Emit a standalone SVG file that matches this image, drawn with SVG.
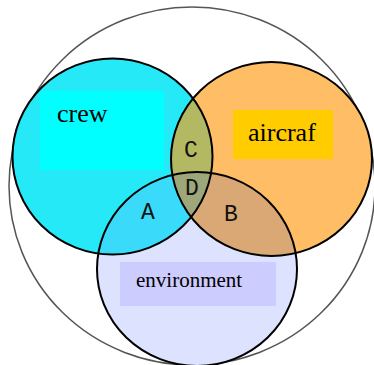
<svg xmlns="http://www.w3.org/2000/svg" width="374" height="365" viewBox="0 0 374 365">
  <style>
    .ring { fill: none; stroke: #000; stroke-width: 2; }
    .outer { fill: none; stroke: #555; stroke-width: 1.5; }
    .label { font-family: "Liberation Serif", "Times New Roman", serif; font-size: 26px; fill: #000; }
    .zone { font-family: "Liberation Mono", "Courier New", monospace; font-size: 23px; fill: #111; text-anchor: middle; }
  </style>
  <defs>
    <ellipse id="crewShape" cx="112.5" cy="156.5" rx="100" ry="98"/>
    <ellipse id="aircraftShape" cx="271.5" cy="159" rx="100.5" ry="97"/>
    <ellipse id="envShape" cx="197" cy="269" rx="100" ry="97"/>
    <clipPath id="clipCrew"><use href="#crewShape"/></clipPath>
    <clipPath id="clipAircraft"><use href="#aircraftShape"/></clipPath>
  </defs>

  <rect width="374" height="365" fill="#fff"/>

  <!-- enclosing system boundary -->
  <g id="system">
    <ellipse class="outer" cx="192" cy="186" rx="183" ry="179"/>
  </g>

  <!-- base set fills -->
  <g id="crew">
    <use href="#crewShape" fill="#26E9F8"/>
    <rect x="40" y="91" width="124" height="79" fill="#00FFFF"/>
    <text class="label" x="57" y="122">crew</text>
  </g>
  <g id="aircraft">
    <use href="#aircraftShape" fill="#FFBE66"/>
    <rect x="233" y="110" width="100" height="49" fill="#FFCC00"/>
    <text class="label" x="248" y="141">aircraf</text>
  </g>
  <g id="environment">
    <use href="#envShape" fill="#DDE3FF"/>
    <rect x="120" y="262" width="156" height="44" fill="#CCCCFF"/>
    <text class="label" x="136" y="287" style="font-size:21px">environment</text>
  </g>

  <!-- overlap regions -->
  <g id="zoneA">
    <g clip-path="url(#clipCrew)"><use href="#envShape" fill="#3ADBFA"/></g>
    <text class="zone" x="148" y="219">A</text>
  </g>
  <g id="zoneB">
    <g clip-path="url(#clipAircraft)"><use href="#envShape" fill="#D9A874"/></g>
    <text class="zone" x="231" y="221">B</text>
  </g>
  <g id="zoneC">
    <g clip-path="url(#clipCrew)"><use href="#aircraftShape" fill="#B3B862"/></g>
    <text class="zone" x="191" y="157">C</text>
  </g>
  <g id="zoneD">
    <g clip-path="url(#clipCrew)"><g clip-path="url(#clipAircraft)"><use href="#envShape" fill="#9EA77A"/></g></g>
    <text class="zone" x="192" y="195">D</text>
  </g>

  <!-- set outlines -->
  <g id="outlines">
    <use href="#crewShape" class="ring"/>
    <use href="#aircraftShape" class="ring"/>
    <use href="#envShape" class="ring"/>
  </g>
</svg>
